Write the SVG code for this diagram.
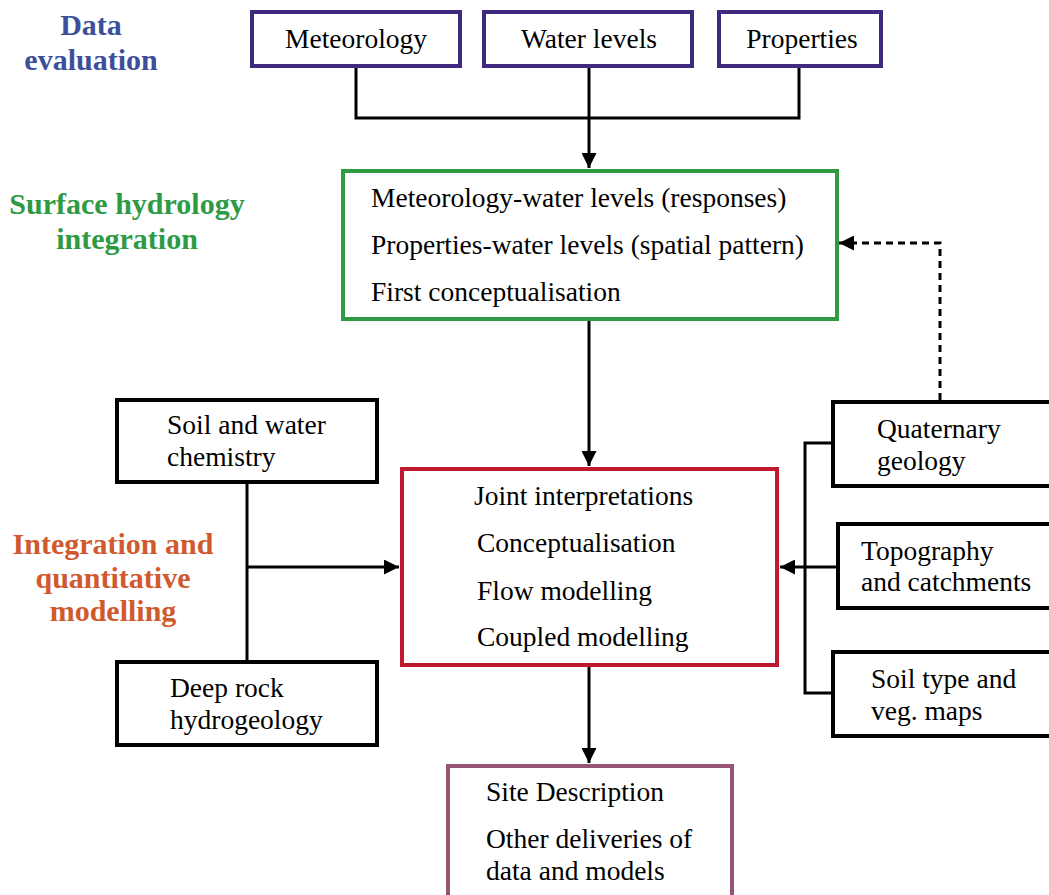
<svg xmlns="http://www.w3.org/2000/svg" width="1049" height="895" viewBox="0 0 1049 895">
<style>
.t{font-family:"Liberation Serif","Times New Roman",serif;font-size:27.5px;fill:#000}
.h{font-family:"Liberation Serif","Times New Roman",serif;font-size:30px;font-weight:bold;text-anchor:middle}
.box{fill:#fff;stroke-width:4}
.c{fill:none;stroke:#000;stroke-width:3}
</style>
<defs>
<marker id="ah" viewBox="0 0 10 10" refX="10" refY="5" markerWidth="5" markerHeight="5" markerUnits="strokeWidth" orient="auto">
<path d="M0,0 L10,5 L0,10 z" fill="#000"/>
</marker>
</defs>
<rect width="1049" height="895" fill="#fff"/>
<g id="labels">
<text class="h" x="91" y="35" fill="#3d4f9a">Data</text>
<text class="h" x="91" y="70" fill="#3d4f9a">evaluation</text>
<text class="h" x="127" y="214" fill="#2e9a44">Surface hydrology</text>
<text class="h" x="127" y="249" fill="#2e9a44">integration</text>
<text class="h" x="113" y="554" fill="#d05a2e">Integration and</text>
<text class="h" x="113" y="588" fill="#d05a2e">quantitative</text>
<text class="h" x="113" y="621" fill="#d05a2e">modelling</text>
</g>
<g id="connectors">
<polyline class="c" points="356,67 356,118 799,118 799,67"/>
<line class="c" x1="589" y1="67" x2="589" y2="168" marker-end="url(#ah)"/>
<line class="c" x1="589" y1="320" x2="589" y2="466" marker-end="url(#ah)"/>
<polyline class="c" points="940,400 940,243 839,243" stroke-dasharray="7,5" marker-end="url(#ah)"/>
<line class="c" x1="247" y1="483" x2="247" y2="661"/>
<line class="c" x1="247" y1="567" x2="399" y2="567" marker-end="url(#ah)"/>
<polyline class="c" points="832,443 805,443 805,693 832,693"/>
<line class="c" x1="837" y1="567" x2="780" y2="567" marker-end="url(#ah)"/>
<line class="c" x1="589" y1="666" x2="589" y2="763" marker-end="url(#ah)"/>
</g>
<g id="meteorology">
<rect class="box" x="252" y="12" width="208" height="54" stroke="#3f2a7f"/>
<text class="t" x="356" y="48" text-anchor="middle">Meteorology</text>
</g>
<g id="water-levels">
<rect class="box" x="484" y="12" width="208" height="54" stroke="#3f2a7f"/>
<text class="t" x="589" y="48" text-anchor="middle">Water levels</text>
</g>
<g id="properties">
<rect class="box" x="719" y="12" width="162" height="54" stroke="#3f2a7f"/>
<text class="t" x="802" y="48" text-anchor="middle">Properties</text>
</g>
<g id="surface-hydrology">
<rect class="box" x="343" y="171" width="494" height="148" stroke="#2e9a44"/>
<text class="t" x="371" y="207">Meteorology-water levels (responses)</text>
<text class="t" x="371" y="254">Properties-water levels (spatial pattern)</text>
<text class="t" x="371" y="301">First conceptualisation</text>
</g>
<g id="integration">
<rect class="box" x="402" y="469" width="375" height="196" stroke="#c0192f"/>
<text class="t" x="474" y="505">Joint interpretations</text>
<text class="t" x="477" y="552">Conceptualisation</text>
<text class="t" x="477" y="600">Flow modelling</text>
<text class="t" x="477" y="646">Coupled modelling</text>
</g>
<g id="soil-water-chemistry">
<rect class="box" x="117" y="400" width="260" height="82" stroke="#000"/>
<text class="t" x="167" y="434">Soil and water</text>
<text class="t" x="167" y="466">chemistry</text>
</g>
<g id="deep-rock">
<rect class="box" x="117" y="662" width="260" height="83" stroke="#000"/>
<text class="t" x="170" y="697">Deep rock</text>
<text class="t" x="170" y="729">hydrogeology</text>
</g>
<g id="quaternary">
<rect class="box" x="833" y="402" width="220" height="84" stroke="#000"/>
<text class="t" x="877" y="438">Quaternary</text>
<text class="t" x="877" y="470">geology</text>
</g>
<g id="topography">
<rect class="box" x="838" y="524" width="215" height="84" stroke="#000"/>
<text class="t" x="861" y="560">Topography</text>
<text class="t" x="861" y="591">and catchments</text>
</g>
<g id="soil-type">
<rect class="box" x="833" y="652" width="220" height="84" stroke="#000"/>
<text class="t" x="871" y="688">Soil type and</text>
<text class="t" x="871" y="720">veg. maps</text>
</g>
<g id="site-description">
<rect class="box" x="448" y="766" width="284" height="140" stroke="#945576"/>
<text class="t" x="486" y="801">Site Description</text>
<text class="t" x="486" y="848">Other deliveries of</text>
<text class="t" x="486" y="880">data and models</text>
</g>
</svg>
